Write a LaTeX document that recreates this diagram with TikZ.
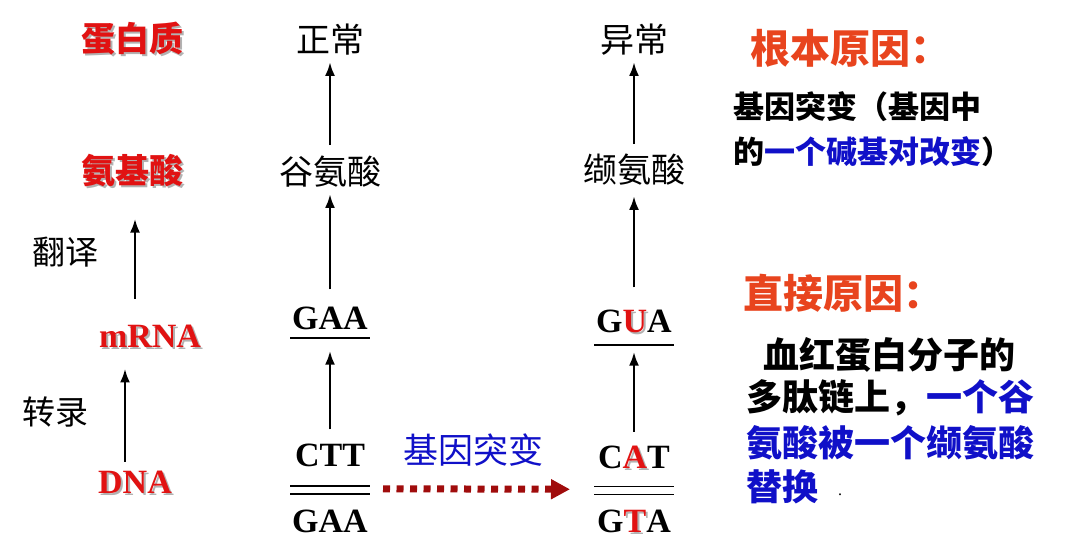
\documentclass[tikz,border=0pt]{standalone}
\usepackage{fontspec}
\setmainfont{Liberation Serif}
\newfontfamily\cjk{Noto Sans CJK SC}
\usetikzlibrary{arrows.meta}
\definecolor{lblred}{RGB}{225,18,18}
\definecolor{causered}{RGB}{232,68,30}
\definecolor{mutblue}{RGB}{16,16,200}
\definecolor{arrred}{RGB}{160,12,12}
% grey copy of a word, set under the word
\newcommand{\shadowtxt}[1]{\makebox[0pt][l]{\hspace{2pt}\raisebox{-2pt}{\textcolor{black!30}{#1}}}#1}
\tikzset{
  redlbl/.style={text=lblred, inner sep=0, font=\cjk\bfseries\fontsize{34}{34}\selectfont},
  redcode/.style={text=lblred, inner sep=0, font=\bfseries\fontsize{34}{34}\selectfont},
  steplbl/.style={inner sep=0, font=\cjk\fontsize{33}{33}\selectfont},
  plainlbl/.style={inner sep=0, font=\cjk\fontsize{34}{34}\selectfont},
  codon/.style={inner sep=0, font=\bfseries\fontsize{34}{34}\selectfont},
  uparr/.style={-{Latex[length=14pt,width=10pt]}, line width=2.9pt},
  strand/.style={line width=1.8pt},
  mutarr/.style={-{Triangle[length=19pt,width=19pt]}, arrred, line width=7pt, dash pattern=on 7pt off 6.5pt},
  mutlbl/.style={text=mutblue, inner sep=0, font=\cjk\fontsize{35}{35}\selectfont},
  causehd/.style={text=causered, anchor=west, inner sep=0, font=\cjk\bfseries\fontsize{40}{40}\selectfont},
  causetxt/.style={anchor=west, inner sep=0, font=\cjk\bfseries\fontsize{31}{31}\selectfont},
  causetxtb/.style={anchor=west, inner sep=0, font=\cjk\bfseries\fontsize{36}{36}\selectfont}
}
\begin{document}
\begin{tikzpicture}[x=1pt,y=-1pt]
\useasboundingbox (0,0) rectangle (1065,559);

% left: the general path
\node [redlbl] (protein) at (132,40) {\shadowtxt{蛋白质}};
\node [redlbl] (amino) at (132,172) {\shadowtxt{氨基酸}};
\node [redcode] (mrna) at (150,337) {\shadowtxt{mRNA}};
\node [redcode] (dna) at (135,483) {\shadowtxt{DNA}};
\node [steplbl] (transl) at (65,252) {翻译};
\node [steplbl] (transc) at (55,412) {转录};
\draw [uparr, shorten <=26pt, shorten >=29pt] ([xshift=3pt]amino.south |- mrna.north) -- ([xshift=3pt]amino.south);
\draw [uparr, shorten <=9pt, shorten >=19pt] ([xshift=-10pt]dna.north) -- ([xshift=-25pt]mrna.south);

% middle: normal
\node [plainlbl] (normal) at (330,40) {正常};
\node [plainlbl] (glu) at (330,172) {谷氨酸};
\node [codon] (mcodA) at (330,318) {GAA};
\node [codon] (topA) at (330,455) {CTT};
\node [codon] (botA) at (330,521) {GAA};
\draw [strand] ([xshift=-40pt,yshift=-8pt]mcodA.south) -- ([xshift=40pt,yshift=-8pt]mcodA.south);
\draw [strand] ([xshift=-40pt,yshift=-19pt]topA.south) -- ([xshift=40pt,yshift=-19pt]topA.south);
\draw [strand] ([xshift=-40pt,yshift=-27pt]topA.south) -- ([xshift=40pt,yshift=-27pt]topA.south);
\draw [uparr, shorten <=14pt, shorten >=21pt] (topA) -- (mcodA.south);
\draw [uparr, shorten <=17pt, shorten >=6pt] (mcodA.north) -- (glu.south);
\draw [uparr, shorten <=11pt, shorten >=6pt] (glu.north) -- (normal.south);

% middle: abnormal
\node [plainlbl] (abnormal) at (634,40) {异常};
\node [plainlbl] (val) at (634,170) {缬氨酸};
\node [codon] (mcodB) at (634,322) {G\textcolor{lblred}{\shadowtxt{U}}A};
\node [codon] (topB) at (634,458) {C\textcolor{lblred}{\shadowtxt{A}}T};
\node [codon] (botB) at (634,522) {G\textcolor{lblred}{\shadowtxt{T}}A};
\draw [strand] ([xshift=-40pt,yshift=-10pt]mcodB.south) -- ([xshift=40pt,yshift=-10pt]mcodB.south);
\draw [strand] ([xshift=-40pt,yshift=-16pt]topB.south) -- ([xshift=40pt,yshift=-16pt]topB.south);
\draw [strand] ([xshift=-40pt,yshift=-24pt]topB.south) -- ([xshift=40pt,yshift=-24pt]topB.south);
\draw [uparr, shorten <=14pt, shorten >=17pt] (topB) -- (mcodB.south);
\draw [uparr, shorten <=22pt, shorten >=10pt] (mcodB.north) -- (val.south);
\draw [uparr, shorten <=10pt, shorten >=6pt] (val.north) -- (abnormal.south);

% the mutation
\coordinate (dlA) at ([yshift=-22pt]topA.south);
\coordinate (dlB) at ([yshift=-19pt]topB.south);
\draw [mutarr, shorten <=53pt, shorten >=64pt] (dlA) -- (dlB);
\node [mutlbl] (mutation) at (473,450) {基因突变};

% right: causes
\node [causehd] (rootcause) at (750,48) {根本原因：};
\node [causetxt] (rootA) at (733,107) {基因突变（基因中};
\node [causetxt] (rootB) at (733,152) {的\textcolor{mutblue}{一个碱基对改变}）};
\node [causehd] (directcause) at (743,293) {直接原因：};
\node [causetxtb] (directA) at (763,355) {血红蛋白分子的};
\node [causetxtb] (directB) at (746,398) {多肽链上，\textcolor{mutblue}{一个谷}};
\node [causetxtb] (directC) at (746,443) {\textcolor{mutblue}{氨酸被一个缬氨酸}};
\node [causetxtb] (directD) at (746,487) {\textcolor{mutblue}{替换}\hspace{20pt}\raisebox{5pt}{\normalfont\fontsize{16}{16}\selectfont .}};

\end{tikzpicture}
\end{document}
